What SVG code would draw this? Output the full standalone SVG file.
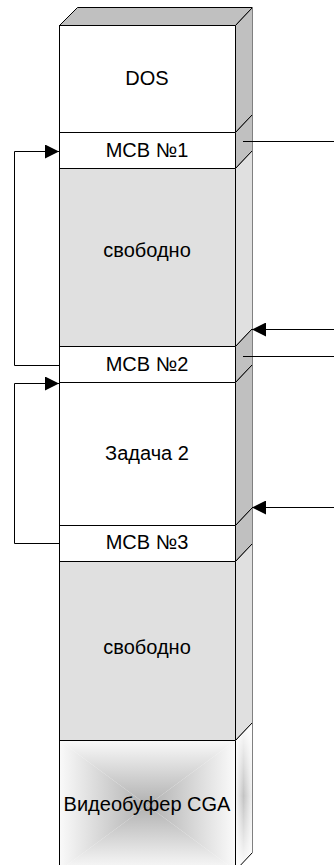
<svg xmlns="http://www.w3.org/2000/svg" width="334" height="865" viewBox="0 0 334 865">
<style>
.f{stroke:#000;stroke-width:1}
.w{fill:#fff}
.g{fill:#e0e0e0}
.d{fill:#c0c0c0}
.t{font-family:"Liberation Sans",Arial,sans-serif;font-size:20px;fill:#000;text-anchor:middle}
.c{fill:none;stroke:#000;stroke-width:1}
</style>
<defs>
<marker id="ah" viewBox="0 0 14 14" refX="14" refY="7" markerWidth="14" markerHeight="14" markerUnits="userSpaceOnUse" orient="auto">
<path d="M0,0 L14,7 L0,14 Z" fill="#000"/>
</marker>
<linearGradient id="gt" gradientUnits="userSpaceOnUse" x1="0" y1="740" x2="0" y2="805">
<stop offset="0" stop-color="#fafafa"/><stop offset="1" stop-color="#b0b0b0"/>
</linearGradient>
<linearGradient id="gb" gradientUnits="userSpaceOnUse" x1="0" y1="870" x2="0" y2="805">
<stop offset="0" stop-color="#fafafa"/><stop offset="1" stop-color="#b0b0b0"/>
</linearGradient>
<linearGradient id="gl" gradientUnits="userSpaceOnUse" x1="59" y1="0" x2="147" y2="0">
<stop offset="0" stop-color="#fafafa"/><stop offset="1" stop-color="#b0b0b0"/>
</linearGradient>
<linearGradient id="gr" gradientUnits="userSpaceOnUse" x1="235" y1="0" x2="147" y2="0">
<stop offset="0" stop-color="#fafafa"/><stop offset="1" stop-color="#b0b0b0"/>
</linearGradient>
<linearGradient id="vs" gradientUnits="userSpaceOnUse" x1="235" y1="0" x2="252" y2="0">
<stop offset="0" stop-color="#fafafa"/>
<stop offset="0.5" stop-color="#c4c4c4"/>
<stop offset="1" stop-color="#f2f2f2"/>
</linearGradient>
<linearGradient id="vf" gradientUnits="userSpaceOnUse" x1="0" y1="722" x2="0" y2="870">
<stop offset="0" stop-color="#fff" stop-opacity="1"/>
<stop offset="0.5" stop-color="#fff" stop-opacity="0"/>
<stop offset="1" stop-color="#fff" stop-opacity="1"/>
</linearGradient>
</defs>
<g id="top">
<polygon class="f d" points="59.5,25.5 77.5,7.5 252.5,7.5 235.5,25.5"/>
</g>
<g id="dos">
<rect class="f w" x="59.5" y="25.5" width="176" height="107"/>
<polygon class="f d" points="235.5,25.5 252.5,7.5 252.5,114.5 235.5,132.5"/>
<text class="t" x="147" y="85">DOS</text>
</g>
<g id="mcb1">
<rect class="f w" x="59.5" y="132.5" width="176" height="36"/>
<polygon class="f d" points="235.5,132.5 252.5,114.5 252.5,150.5 235.5,168.5"/>
<text class="t" x="147" y="157">MCB №1</text>
</g>
<g id="free1">
<rect class="f g" x="59.5" y="168.5" width="176" height="178"/>
<polygon class="f g" points="235.5,168.5 252.5,150.5 252.5,328.5 235.5,346.5"/>
<text class="t" x="147" y="257">свободно</text>
</g>
<g id="mcb2">
<rect class="f w" x="59.5" y="346.5" width="176" height="36"/>
<polygon class="f d" points="235.5,346.5 252.5,328.5 252.5,364.5 235.5,382.5"/>
<text class="t" x="147" y="371">MCB №2</text>
</g>
<g id="task2">
<rect class="f w" x="59.5" y="382.5" width="176" height="143"/>
<polygon class="f d" points="235.5,382.5 252.5,364.5 252.5,507.5 235.5,525.5"/>
<text class="t" x="147" y="460">Задача 2</text>
</g>
<g id="mcb3">
<rect class="f w" x="59.5" y="525.5" width="176" height="36"/>
<polygon class="f d" points="235.5,525.5 252.5,507.5 252.5,543.5 235.5,561.5"/>
<text class="t" x="147" y="549">MCB №3</text>
</g>
<g id="free2">
<rect class="f g" x="59.5" y="561.5" width="176" height="179"/>
<polygon class="f g" points="235.5,561.5 252.5,543.5 252.5,722.5 235.5,740.5"/>
<text class="t" x="147" y="654">свободно</text>
</g>
<g id="cga">
<polygon fill="url(#gt)" points="59.5,740.5 235.5,740.5 147.5,805.5"/>
<polygon fill="url(#gb)" points="59.5,870.5 235.5,870.5 147.5,805.5"/>
<polygon fill="url(#gl)" points="59.5,740.5 59.5,870.5 147.5,805.5"/>
<polygon fill="url(#gr)" points="235.5,740.5 235.5,870.5 147.5,805.5"/>
<rect class="f" fill="none" x="59.5" y="740.5" width="176" height="130"/>
<polygon fill="url(#vs)" points="235.5,740.5 252.5,722.5 252.5,852.5 235.5,870.5"/>
<polygon fill="url(#vf)" points="235.5,740.5 252.5,722.5 252.5,852.5 235.5,870.5"/>
<polygon class="f" fill="none" points="235.5,740.5 252.5,722.5 252.5,852.5 235.5,870.5"/>
<text class="t" x="147" y="811">Видеобуфер CGA</text>
</g>
<line x1="252.5" y1="7" x2="252.5" y2="853" stroke="#808080" stroke-width="1"/>
<g id="connectors">
<polyline class="c" points="59,365.5 14.5,365.5 14.5,151.5 59,151.5" marker-end="url(#ah)"/>
<polyline class="c" points="59,543.5 14.5,543.5 14.5,383.5 59,383.5" marker-end="url(#ah)"/>
<line class="c" x1="243" y1="141.5" x2="334" y2="141.5"/>
<line class="c" x1="334" y1="329.5" x2="252" y2="329.5" marker-end="url(#ah)"/>
<line class="c" x1="243" y1="356.5" x2="334" y2="356.5"/>
<line class="c" x1="334" y1="507.5" x2="252" y2="507.5" marker-end="url(#ah)"/>
</g>
</svg>
